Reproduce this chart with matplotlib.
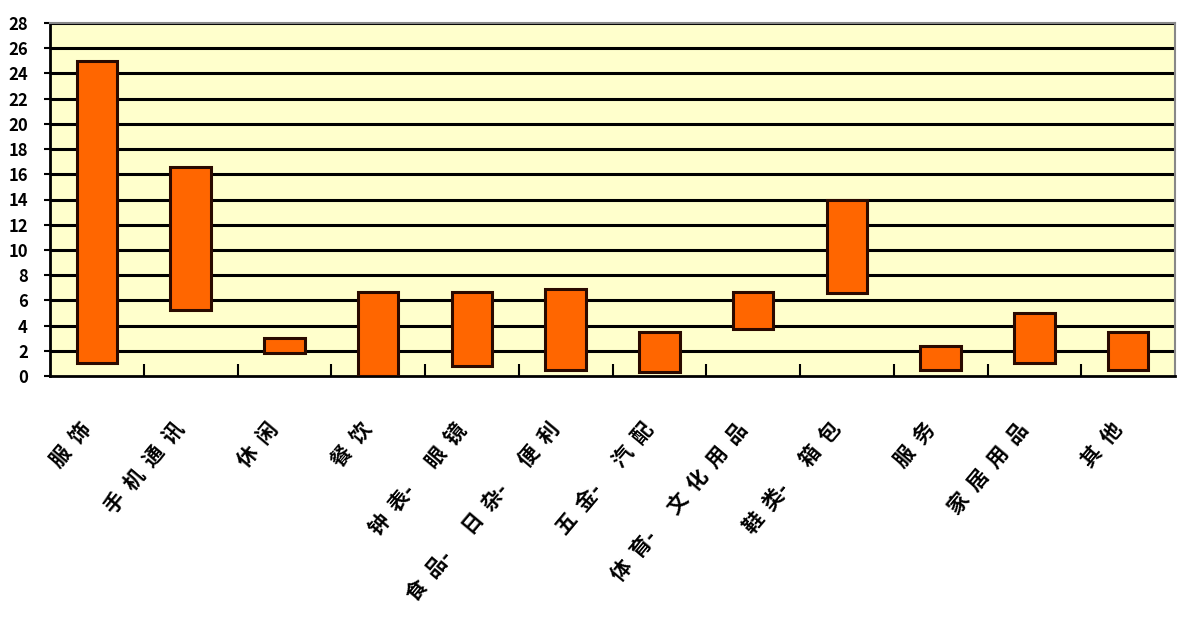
import matplotlib
matplotlib.use('Agg')
import matplotlib.pyplot as plt
import numpy as np

plt.rcParams['font.family'] = ['Noto Sans CJK SC', 'DejaVu Sans']

# Data: floating bars (low, high)
categories = ['服饰', '手机通讯', '休闲', '餐饮', '钟表-眼镜', '食品-日杂-便利',
              '五金-汽配', '体育-文化用品', '鞋类-箱包', '服务', '家居用品', '其他']
low = [1.0, 5.2, 1.8, 0.0, 0.8, 0.5, 0.3, 3.7, 6.6, 0.5, 1.0, 0.5]
high = [25.0, 16.6, 3.0, 6.7, 6.7, 6.9, 3.5, 6.7, 14.0, 2.4, 5.0, 3.5]
yticks = list(range(0, 29, 2))

fig = plt.figure(figsize=(11.78, 6.27), dpi=100)
ax = fig.add_axes([50/1178, 1 - 376/627, 1125/1178, 353/627])
ax.set_facecolor('#ffffcc')

x = np.arange(len(categories))
heights = np.array(high) - np.array(low)

for y in yticks[1:]:
    ax.axhline(y, color='black', lw=2.2, zorder=1)

ax.bar(x, heights, bottom=low, width=0.43, color='#ff6600',
       edgecolor='#2a0a00', linewidth=2.2, zorder=3)

ax.set_xlim(-0.5, len(categories) - 0.5)
ax.set_ylim(0, 28)
ax.set_yticks(yticks)
ax.set_yticklabels([str(v) for v in yticks], fontsize=12, fontweight='bold')
ax.tick_params(axis='y', length=4, width=1.5, pad=12)

# category boundary ticks on x axis
ax.set_xticks(np.arange(0.5, len(categories) - 0.5, 1.0))
ax.set_xticklabels([])
ax.tick_params(axis='x', direction='in', length=9, width=1.5)

# spaced-out rotated labels, as in the original
for i, lab in enumerate(categories):
    parts = ['  '.join(p) for p in lab.split('-')]
    spaced = '-      '.join(parts)
    ax.text(i - 0.19, -3.4, spaced, rotation=50, ha='right', va='top',
            rotation_mode='anchor', fontsize=15, fontweight='bold')

for s in ['left', 'bottom']:
    ax.spines[s].set_color('black')
    ax.spines[s].set_linewidth(2)
for s in ['top', 'right']:
    ax.spines[s].set_color('#888888')
    ax.spines[s].set_linewidth(1.5)

fig.savefig('out.png', dpi=100)
